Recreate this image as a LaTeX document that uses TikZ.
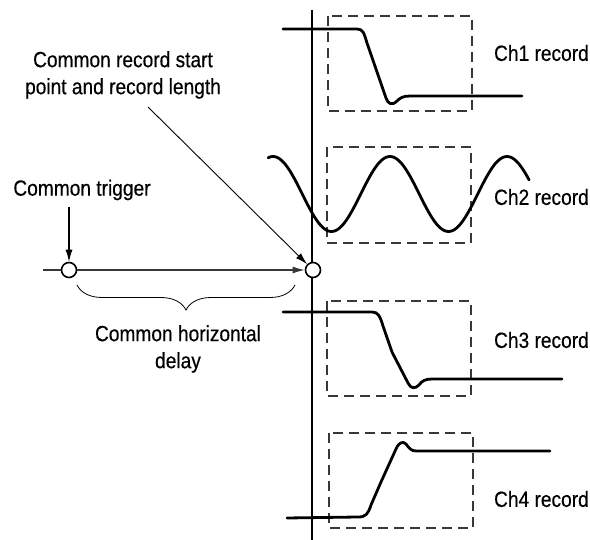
\documentclass[tikz,border=0pt]{standalone}
\usepackage{fontspec}
\setmainfont{Liberation Sans}[FakeStretch=0.87,FakeBold=0.4]
\usetikzlibrary{positioning,calc,arrows.meta,decorations.pathreplacing}
\definecolor{scopeink}{RGB}{0,0,0}
\definecolor{scopegray}{RGB}{55,55,55}
\begin{document}
\begin{tikzpicture}[
  x=1pt,y=-1pt,
  every node/.style={font=\fontsize{22}{27}\selectfont,text=scopeink},
  label/.style={align=center,inner sep=0pt},
  chlabel/.style={anchor=east,inner sep=0pt},
  recbox/.style={draw=scopegray,line width=1.1pt,dash pattern=on 10pt off 6pt},
  wave/.style={draw=scopeink,line width=2.8pt,line cap=round,line join=round},
  tpoint/.style={circle,draw=scopeink,fill=white,line width=1.6pt,minimum size=15pt,inner sep=0pt},
  pointer/.style={-{Latex[length=12pt,width=7pt]}},
  timeline/.style={draw=scopegray,line width=1.2pt},
  bracket/.style={draw=scopeink,line width=0.8pt,decorate,decoration={brace,mirror,amplitude=25pt}}
]
\useasboundingbox (0,0) rectangle (590,540);
\coordinate (vtop) at (312,10);
\coordinate (vbot) at (312,540);
\draw[scopeink,line width=2pt] (vtop) -- (vbot);
\draw[recbox] (328,16) rectangle (472,111);
\draw[recbox] (327,147) rectangle (471,243);
\draw[recbox] (327,301) rectangle (471,396);
\draw[recbox] (329,433) rectangle (473,528);
\draw[wave] (283,29) -- (357,29) .. controls (363,29) and (364,33) .. (367,43) -- (386,98)
  .. controls (388,104) and (392,106) .. (397,101) .. controls (400,98) and (403,96) .. (410,96) -- (522,96);
\draw[wave] plot[domain=-375:428,samples=140,smooth] ({390+0.325*\x},{194-37.5*cos(\x)});
\draw[wave] (283,312) -- (372,312) .. controls (378,312) and (380,316) .. (383,326) -- (392,352) -- (408,383)
  .. controls (411,389) and (415,389) .. (419,385) .. controls (422,381) and (425,379) .. (432,379) -- (562,379);
\draw[wave] (287,518) -- (358,517) .. controls (366,517) and (368,514) .. (371,505) -- (381,482) -- (396,449)
  .. controls (399,442) and (403,441) .. (406,444) .. controls (409,448) and (411,451) .. (416,451) -- (550,451);
\node[chlabel] (ch1) at (589,53) {Ch1 record};
\node[chlabel] (ch2) at (589,197) {Ch2 record};
\node[chlabel] (ch3) at (589,340) {Ch3 record};
\node[chlabel] (ch4) at (589,499) {Ch4 record};
\node[label] (startlbl) at (123,75) {Common record start\\point and record length};
\node[label] (triglbl) at (82,190) {Common trigger};
\node[label] (delaylbl) at (178,349) {Common horizontal\\delay};
\node[tpoint] (trig) at (69,270) {};
\node[tpoint] (rec) at (313,270) {};
\coordinate (hstart) at (43,270);
\coordinate (trigtail) at (69,207);
\coordinate (ptrtail) at (148,107);
\draw[timeline] (hstart) -- (trig);
\draw[timeline,pointer] (trig) -- (rec);
\draw[scopeink,line width=1.1pt,pointer] (trigtail) -- (trig);
\draw[scopeink,line width=0.9pt,pointer] (ptrtail) -- (rec);
\draw[bracket] (77,285) -- (295,285);
\end{tikzpicture}
\end{document}
